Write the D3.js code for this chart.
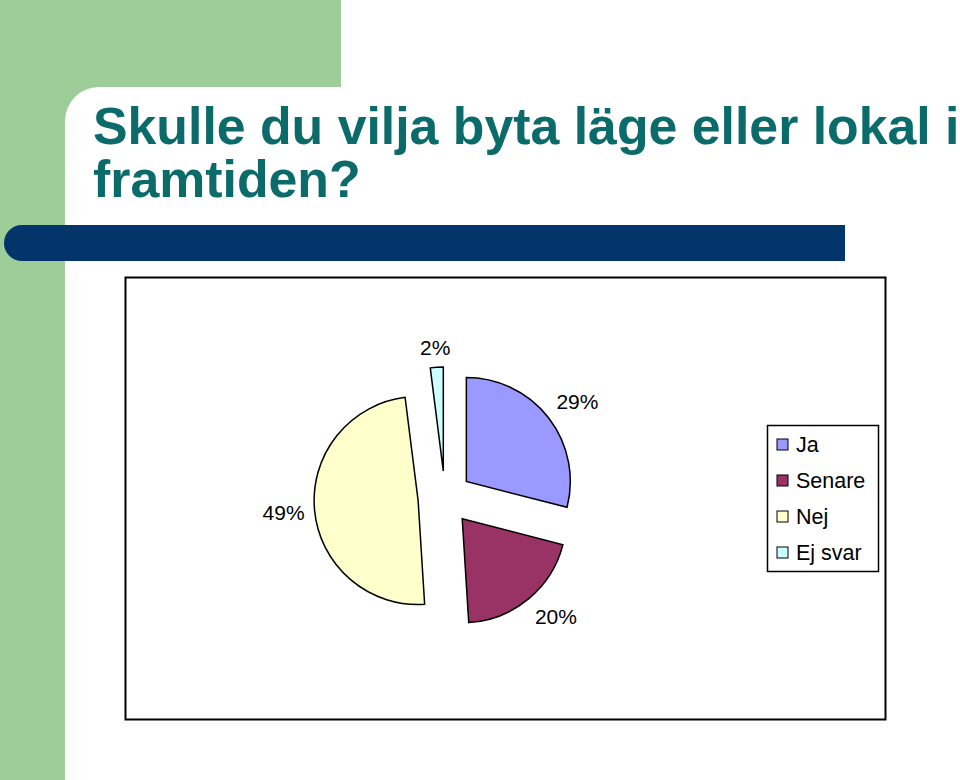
<!DOCTYPE html>
<html>
<head>
<meta charset="utf-8">
<script src="https://cdn.jsdelivr.net/npm/d3@7/dist/d3.min.js"></script>
<style>
  html, body { margin: 0; padding: 0; background: #ffffff; }
  svg { display: block; }
</style>
</head>
<body>
<svg id="chart" width="960" height="780"></svg>
<script>
// ---- Data ----
const categories = ["Ja", "Senare", "Nej", "Ej svar"];
const values = [29, 20, 49, 2];
const labels = ["29%", "20%", "49%", "2%"];
const colors = ["#9999FF", "#993366", "#FFFFCC", "#CCFFFF"];
const titleLines = ["Skulle du vilja byta läge eller lokal i", "framtiden?"];

const svg = d3.select("#chart");
const W = 960, H = 780;
const green = "#9DCD98";
const FONT = "Liberation Sans, Arial, sans-serif";

// ---- Slide background ----
svg.append("rect").attr("x", 0).attr("y", 0).attr("width", W).attr("height", H).attr("fill", "#ffffff");
svg.append("rect").attr("x", 0).attr("y", 0).attr("width", 341).attr("height", 130).attr("fill", green);
svg.append("rect").attr("x", 0).attr("y", 0).attr("width", 65).attr("height", H).attr("fill", green);
svg.append("rect").attr("x", 65).attr("y", 87).attr("width", W).attr("height", H)
  .attr("rx", 34).attr("ry", 34).attr("fill", "#ffffff");

// Title
const title = svg.append("text")
  .attr("font-family", FONT)
  .attr("font-weight", "bold")
  .attr("font-size", 51.8)
  .attr("fill", "#0B6B6B");
titleLines.forEach((t, i) => {
  title.append("tspan").attr("x", 93).attr("y", 144 + i * 53).text(t);
});

// Blue bar
const barY = 225, barH = 36;
svg.append("path")
  .attr("d", `M${4 + barH / 2},${barY} L845,${barY} L845,${barY + barH} L${4 + barH / 2},${barY + barH} A${barH / 2},${barH / 2} 0 0 1 ${4 + barH / 2},${barY} Z`)
  .attr("fill", "#04356A");

// ---- Chart box ----
svg.append("rect")
  .attr("x", 125.5).attr("y", 277.5).attr("width", 760).attr("height", 442)
  .attr("fill", "#ffffff").attr("stroke", "#000000").attr("stroke-width", 2);

// ---- Pie ----
const cx = 445, cy = 498, R = 104, explode = 27, anchorR = 141;
const pie = d3.pie().sort(null).value(d => d)(values);
const arc = d3.arc().innerRadius(0).outerRadius(R);

const g = svg.append("g").attr("transform", `translate(${cx},${cy})`);
pie.forEach((p, i) => {
  const mid = (p.startAngle + p.endAngle) / 2;
  const sx = Math.sin(mid), sy = -Math.cos(mid);
  g.append("path")
    .attr("d", arc(p))
    .attr("transform", `translate(${sx * explode},${sy * explode})`)
    .attr("fill", colors[i])
    .attr("stroke", "#000000")
    .attr("stroke-width", 1.5)
    .attr("stroke-linejoin", "miter");
  const t = g.append("text")
    .attr("text-anchor", "middle")
    .attr("dominant-baseline", "central")
    .attr("font-family", FONT)
    .attr("font-size", 21)
    .attr("fill", "#000000")
    .text(labels[i]);
  const bb = t.node().getBBox();
  const hw = bb.width / 2, hh = 10;
  const ax = sx * anchorR, ay = sy * anchorR;
  const ox = Math.abs(sx) < 0.2 ? sx * hw : Math.sign(sx) * hw;
  const oy = Math.abs(sy) < 0.2 ? sy * hh : Math.sign(sy) * hh;
  t.attr("x", ax + ox).attr("y", ay + oy);
});

// ---- Legend ----
svg.append("rect")
  .attr("x", 767.5).attr("y", 425.5).attr("width", 111).attr("height", 146)
  .attr("fill", "#ffffff").attr("stroke", "#000000").attr("stroke-width", 1.5);
const leg = svg.append("g");
categories.forEach((c, i) => {
  const y = 445 + i * 36;
  leg.append("rect")
    .attr("x", 777).attr("y", y - 6).attr("width", 11).attr("height", 11)
    .attr("fill", colors[i]).attr("stroke", "#000000").attr("stroke-width", 1);
  leg.append("text")
    .attr("x", 796).attr("y", y)
    .attr("dominant-baseline", "central")
    .attr("font-family", FONT)
    .attr("font-size", 21.5)
    .attr("fill", "#000000")
    .text(c);
});
</script>
</body>
</html>
